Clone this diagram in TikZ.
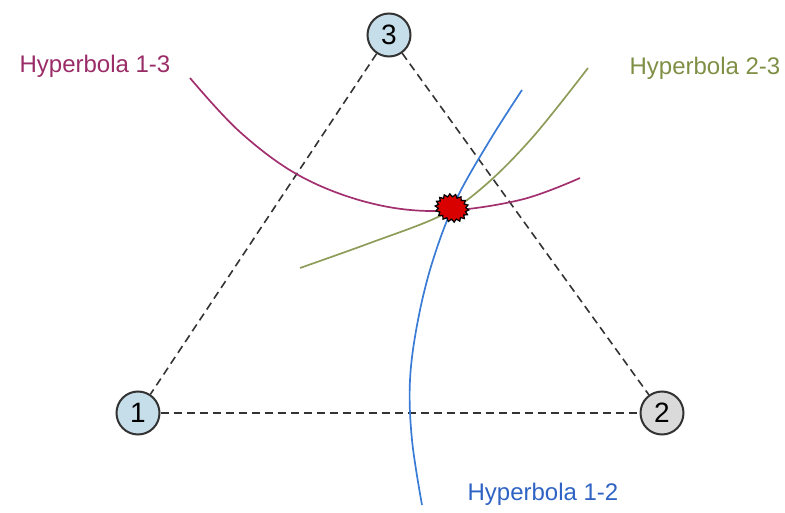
\documentclass[tikz,border=0pt]{standalone}
\usepackage{fontspec}
\setmainfont{Liberation Sans}
\usetikzlibrary{shapes.symbols}
\definecolor{hpurple}{HTML}{A2306F}
\definecolor{holive}{HTML}{8E9C5A}
\definecolor{hblue}{HTML}{3A7BD5}
\definecolor{lpurple}{HTML}{9A2C68}
\definecolor{lolive}{HTML}{7F8F45}
\definecolor{lblue}{HTML}{2E63C4}
\definecolor{nodeblue}{HTML}{C6DDEA}
\definecolor{nodegray}{HTML}{DADADA}
\begin{document}
\begin{tikzpicture}[x=1pt,y=-1pt,
  station/.style={circle,draw=black!80,line width=2pt,minimum size=43pt,inner sep=0pt,font=\fontsize{28}{28}\selectfont},
  baseline/.style={draw=black!80,line width=1.6pt,dash pattern=on 8pt off 5pt},
  hyp/.style={line width=1.7pt},
  lab/.style={font=\fontsize{24}{24}\selectfont,inner sep=0pt}]
\useasboundingbox (0,0) rectangle (785,513);
\node[station,fill=nodeblue] (c3) at (389,35) {3};
\node[station,fill=nodeblue] (c1) at (138,413) {1};
\node[station,fill=nodegray] (c2) at (662,413) {2};
\draw[baseline] (c3) -- (c1);
\draw[baseline] (c3) -- (c2);
\draw[baseline] (c1) -- (c2);
\draw[hyp,hpurple] plot[smooth,tension=0.6] coordinates {(190,78) (240,132) (300,176) (370,203) (440,211) (520,200) (580,178)};
\draw[hyp,holive] plot[smooth,tension=0.6] coordinates {(300,268) (370,243) (440,216) (482,188) (532,138) (588,68)};
\draw[hyp,hblue] plot[smooth,tension=0.6] coordinates {(522,90) (490,140) (456,200) (433,260) (418,320) (410,380) (412,440) (422,505)};
\node[starburst,starburst points=18,starburst point height=3pt,random starburst=0,fill=red!85!black,draw=black,line width=1.2pt,minimum width=34pt,minimum height=28pt,inner sep=0pt,rotate=-15] (fix) at (452,208) {};
\node[lab,text=lpurple] (l13) at (95,66) {Hyperbola 1-3};
\node[lab,text=lolive] (l23) at (705,68) {Hyperbola 2-3};
\node[lab,text=lblue] (l12) at (543,494) {Hyperbola 1-2};
\end{tikzpicture}
\end{document}
